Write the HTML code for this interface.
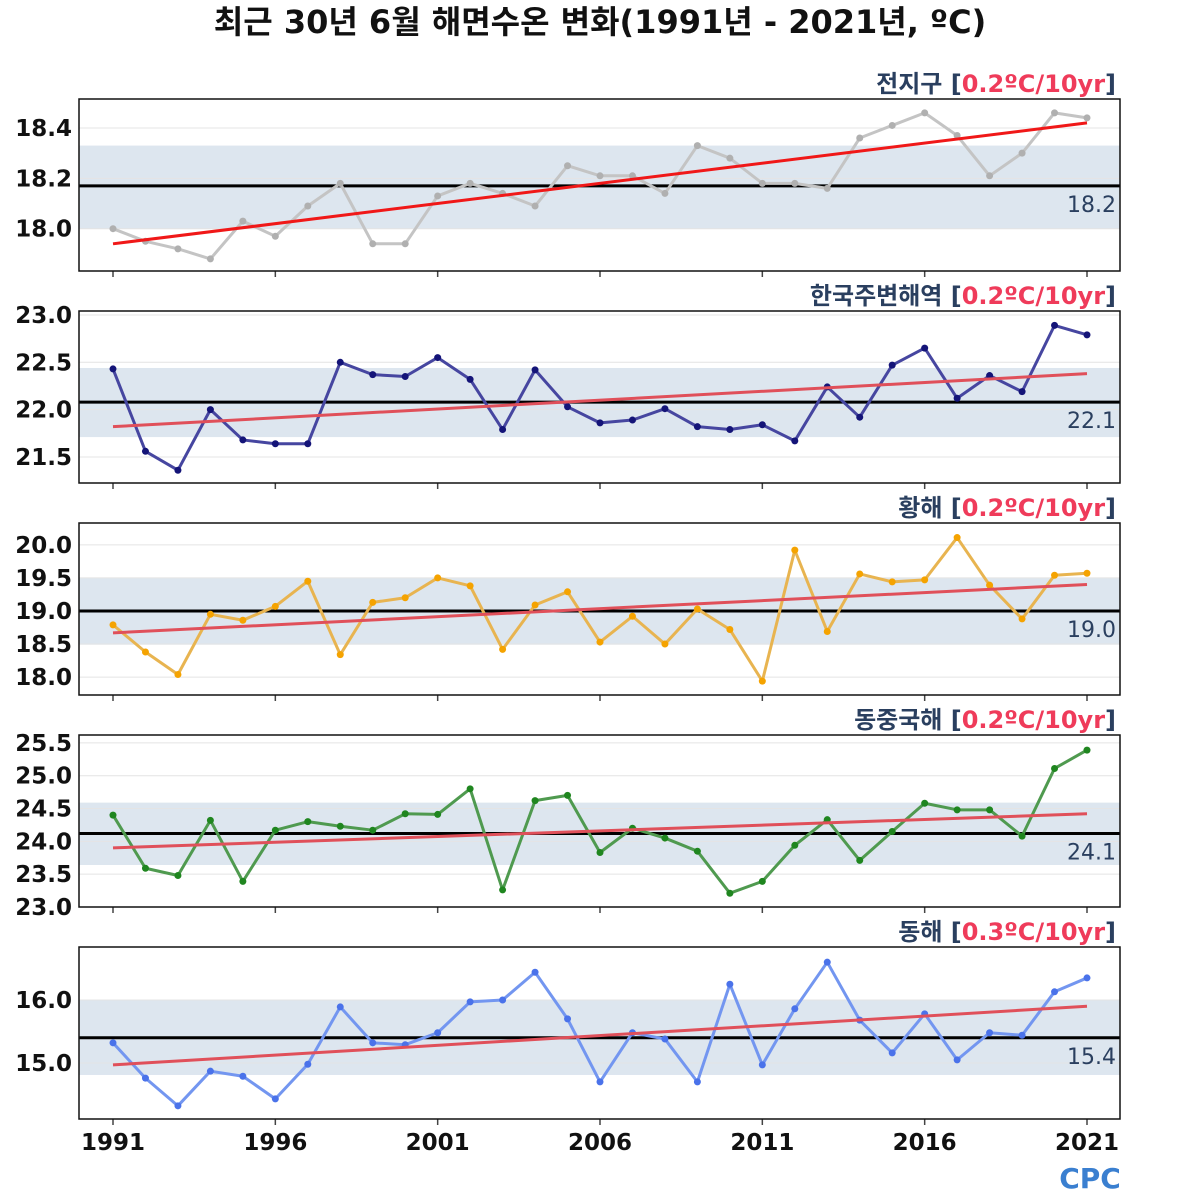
<!DOCTYPE html>
<html><head><meta charset="utf-8">
<style>
html,body{margin:0;padding:0;background:#fff;}
svg{display:block;font-family:"DejaVu Sans","Noto Sans CJK KR",sans-serif;}
</style></head>
<body>
<svg id="chart" width="1200" height="1200" viewBox="0 0 1200 1200">
<text x="600" y="33" text-anchor="middle" font-size="32" font-weight="bold" fill="#111">최근 30년 6월 해면수온 변화(1991년 - 2021년, ºC)</text>
<g><text x="1090" y="1188" text-anchor="middle" font-size="28" font-weight="bold" fill="#3a7fd0">CPC</text></g>
</svg>
<script>
const years = [1991,1992,1993,1994,1995,1996,1997,1998,1999,2000,2001,2002,2003,2004,2005,2006,2007,2008,2009,2010,2011,2012,2013,2014,2015,2016,2017,2018,2019,2020,2021];
const xTickYears = [1991,1996,2001,2006,2011,2016,2021];
const regionNames = ["전지구","한국주변해역","황해","동중국해","동해"];
const trendLabels = ["0.2ºC/10yr","0.2ºC/10yr","0.2ºC/10yr","0.2ºC/10yr","0.3ºC/10yr"];
const globalSeries = [18.00,17.95,17.92,17.88,18.03,17.97,18.09,18.18,17.94,17.94,18.13,18.18,18.14,18.09,18.25,18.21,18.21,18.14,18.33,18.28,18.18,18.18,18.16,18.36,18.41,18.46,18.37,18.21,18.30,18.46,18.44];
const koreaSeries = [22.43,21.56,21.36,22.00,21.68,21.64,21.64,22.50,22.37,22.35,22.55,22.32,21.79,22.42,22.03,21.86,21.89,22.01,21.82,21.79,21.84,21.67,22.24,21.92,22.47,22.65,22.12,22.36,22.19,22.89,22.79];
const yellowSeries = [18.79,18.38,18.04,18.95,18.86,19.07,19.45,18.34,19.13,19.20,19.50,19.38,18.42,19.09,19.29,18.53,18.92,18.50,19.03,18.72,17.94,19.92,18.69,19.56,19.44,19.47,20.11,19.39,18.88,19.54,19.57];
const ecsSeries = [24.40,23.59,23.48,24.32,23.39,24.17,24.30,24.23,24.17,24.42,24.41,24.80,23.26,24.62,24.70,23.83,24.20,24.05,23.85,23.21,23.39,23.94,24.33,23.71,24.15,24.58,24.48,24.48,24.08,25.11,25.39];
const eastSeries = [15.32,14.76,14.32,14.87,14.79,14.43,14.98,15.89,15.32,15.29,15.48,15.97,16.00,16.44,15.70,14.70,15.48,15.38,14.70,16.25,14.97,15.86,16.60,15.68,15.16,15.78,15.05,15.48,15.44,16.13,16.35];
const means = [18.17,22.08,19.0,24.12,15.4];
const meanLabels = ["18.2","22.1","19.0","24.1","15.4"];
const bandLow = [18.0,21.71,18.49,23.64,14.81];
const bandHigh = [18.33,22.44,19.5,24.59,16.0];
const trendStart = [17.94,21.82,18.67,23.90,14.97];
const trendEnd = [18.42,22.38,19.40,24.42,15.90];
const yTicks = [[18.0,18.2,18.4],[21.5,22.0,22.5,23.0],[18.0,18.5,19.0,19.5,20.0],[23.0,23.5,24.0,24.5,25.0,25.5],[15.0,16.0]];
const yTickLabels = [["18.0","18.2","18.4"],["21.5","22.0","22.5","23.0"],["18.0","18.5","19.0","19.5","20.0"],["23.0","23.5","24.0","24.5","25.0","25.5"],["15.0","16.0"]];
const yDomains = [[17.832,18.515],[21.225,23.042],[17.73,20.33],[23.0,25.62],[14.111,16.841]];
const allSeries = [globalSeries,koreaSeries,yellowSeries,ecsSeries,eastSeries];

const NS="http://www.w3.org/2000/svg";
const svg=document.getElementById('chart');
const panelTops=[99,311,523,735,947], PH=172, X0=79, X1=1120;
const lineColors=["#c4c4c4","#4646a0","#e8b450","#4f9a4f","#7396f0"];
const dotColors=["#b0b0b0","#141478","#f5a300","#1f861f","#4a72ea"];
function xs(y){return 113+(y-1991)*(1087-113)/30;}
function mk(tag,attrs,parent){const e=document.createElementNS(NS,tag);for(const k in attrs)e.setAttribute(k,attrs[k]);(parent||svg).appendChild(e);return e;}
for(let p=0;p<5;p++){
  const top=panelTops[p],bot=top+PH,[d0,d1]=yDomains[p];
  const ys=v=>bot-(v-d0)/(d1-d0)*PH;
  const g=mk('g',{});
  
  
  const band=mk('rect',{x:X0,y:ys(bandHigh[p]),width:X1-X0,height:ys(bandLow[p])-ys(bandHigh[p]),fill:'#dde6ef'},g);
  
  
  yTicks[p].forEach((t,i)=>{
    const gl=mk('line',{x1:X0,x2:X1,y1:ys(t),y2:ys(t),stroke:'#e4e4e4','stroke-width':1},g);
    
    
    const tl=mk('text',{x:72,y:ys(t)+8,'text-anchor':'end','font-size':23,'font-weight':'bold',fill:'#111'},g);
    tl.textContent=yTickLabels[p][i];
    
    
  });
  xTickYears.forEach(y=>{
    const tk=mk('line',{x1:xs(y),x2:xs(y),y1:bot,y2:bot+6,stroke:'#444','stroke-width':1.5},g);
    
    
  });
  const ml=mk('line',{x1:X0,x2:X1,y1:ys(means[p]),y2:ys(means[p]),stroke:'#000','stroke-width':3},g);
  
  
  const mt=mk('text',{x:1116,y:ys(means[p])+26,'text-anchor':'end','font-size':22,fill:'#2a3f5f'},g);
  mt.textContent=meanLabels[p];
  
  
  const s=allSeries[p];
  const pts=s.map((v,i)=>xs(years[i])+','+ys(v)).join(' ');
  const pl=mk('polyline',{points:pts,fill:'none',stroke:lineColors[p],'stroke-width':3,'stroke-linejoin':'round'},g);
  
  
  s.forEach((v,i)=>{
    const c=mk('circle',{cx:xs(years[i]),cy:ys(v),r:3.5,fill:dotColors[p]},g);
    
    
  });
  const tr=mk('line',{x1:xs(1991),x2:xs(2021),y1:ys(trendStart[p]),y2:ys(trendEnd[p]),stroke:p==0?'#f01818':'#e0505a','stroke-width':3},g);
  
  
  const fr=mk('rect',{x:X0,y:top,width:X1-X0,height:PH,fill:'none',stroke:'#111','stroke-width':1.5},g);
  
  
  const tt=mk('text',{x:1116,y:top-7,'text-anchor':'end','font-size':24,'font-weight':'bold',fill:'#2a3f5f'},g);
  
  
  const a=mk('tspan',{},tt);a.textContent=regionNames[p]+' [';
  const b=mk('tspan',{fill:'#ef3b5a'},tt);b.textContent=trendLabels[p];
  const c2=mk('tspan',{},tt);c2.textContent=']';
}
xTickYears.forEach(y=>{
  const t=mk('text',{x:xs(y),y:1150,'text-anchor':'middle','font-size':23,'font-weight':'bold',fill:'#111'});
  t.textContent=y;
  
  
});
</script>
</body></html>
